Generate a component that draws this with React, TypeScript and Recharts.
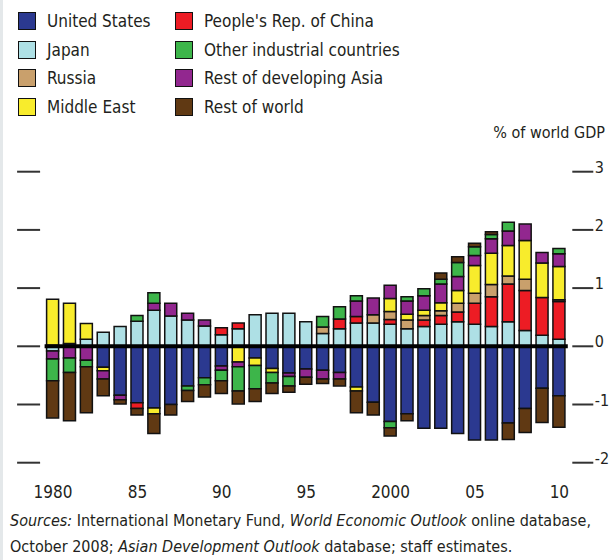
import { Bar, BarChart, ReferenceLine, XAxis, YAxis } from "recharts";

// Current account balances, % of world GDP, 1980-2010
const years = [
  1980, 1981, 1982, 1983, 1984, 1985, 1986, 1987, 1988, 1989, 1990, 1991, 1992, 1993, 1994, 1995,
  1996, 1997, 1998, 1999, 2000, 2001, 2002, 2003, 2004, 2005, 2006, 2007, 2008, 2009, 2010,
];

const unitedStates = [
  0.02, 0.05, 0, -0.36, -0.84, -0.97, -1.06, -1.0, -0.68, -0.54, -0.34, 0, -0.2, -0.38, -0.46, -0.39,
  -0.41, -0.45, -0.7, -0.96, -1.29, -1.16, -1.41, -1.41, -1.5, -1.61, -1.61, -1.32, -1.07, -0.72, -0.85,
];
const japan = [
  -0.08, 0, 0.12, 0.24, 0.34, 0.43, 0.62, 0.52, 0.45, 0.35, 0.2, 0.3, 0.54, 0.57, 0.57, 0.42,
  0.22, 0.3, 0.4, 0.4, 0.38, 0.3, 0.34, 0.38, 0.42, 0.38, 0.34, 0.42, 0.27, 0.19, 0.12,
];
const china = [
  0, 0, 0, 0, 0, -0.1, 0, 0, 0, 0, 0.12, 0.1, 0, 0, 0, 0,
  0, 0.17, 0.11, 0, 0.08, 0, 0.11, 0.15, 0.17, 0.36, 0.51, 0.65, 0.69, 0.65, 0.65,
];
const russia = [
  0, 0, 0, 0, 0, 0, 0, 0, 0, 0, 0, 0, 0, 0, 0, 0,
  0.11, 0, 0, 0.14, 0.14, 0.15, 0.08, 0.08, 0.15, 0.17, 0.21, 0.14, 0.19, 0, 0.03,
];
const middleEast = [
  0.79, 0.69, 0.27, -0.06, 0, 0, -0.1, 0, 0, 0, 0, -0.27, -0.13, -0.07, 0, 0,
  0, 0, -0.07, 0, 0.22, 0.1, 0.09, 0.14, 0.22, 0.48, 0.54, 0.52, 0.67, 0.59, 0.57,
];
const restDevAsia = [
  -0.14, -0.2, -0.24, -0.14, -0.08, 0, 0.12, 0.22, 0.12, 0.1, -0.07, -0.08, 0, 0, -0.06, -0.14,
  -0.15, -0.11, 0.27, 0.29, 0.23, 0.23, 0.25, 0.32, 0.24, 0.17, 0.25, 0.25, 0.28, 0.18, 0.22,
];
const otherIndustrial = [
  -0.37, -0.25, -0.11, 0, 0, 0.1, 0.18, 0, -0.08, -0.12, -0.18, -0.42, -0.4, -0.18, -0.16, 0,
  0.18, 0.21, 0.09, 0, -0.11, 0.07, 0.12, 0.08, 0.24, 0.15, 0.07, 0.15, 0, 0, 0.09,
];
const restOfWorld = [
  -0.64, -0.83, -0.79, -0.29, -0.07, -0.11, -0.34, -0.18, -0.19, -0.21, -0.22, -0.22, -0.22, -0.18, -0.11, -0.12,
  -0.08, -0.12, -0.37, -0.22, -0.14, -0.12, 0, 0.11, 0.1, 0.06, 0.05, -0.28, -0.41, -0.59, -0.54,
];

const yTicks = [-2, -1, 0, 1, 2, 3];

// stacking order (from zero outwards)
const SERIES = [
  { key: "us", name: "United States", color: "#2b3990", values: unitedStates },
  { key: "japan", name: "Japan", color: "#aee0e5", values: japan },
  { key: "china", name: "People's Rep. of China", color: "#ed1c24", values: china },
  { key: "russia", name: "Russia", color: "#c9a06c", values: russia },
  { key: "me", name: "Middle East", color: "#f8ec2c", values: middleEast },
  { key: "asia", name: "Rest of developing Asia", color: "#92278f", values: restDevAsia },
  { key: "oth", name: "Other industrial countries", color: "#3db54a", values: otherIndustrial },
  { key: "row", name: "Rest of world", color: "#603913", values: restOfWorld },
];

// legend is laid out in two columns, not in stack order
const LEGEND_COLS = [
  ["us", "japan", "russia", "me"],
  ["china", "oth", "asia", "row"],
];

const data = years.map((year, i) => {
  const row: Record<string, number> = { year };
  SERIES.forEach((s) => (row[s.key] = s.values[i]));
  return row;
});

const FONT = '"DejaVu Sans Condensed", "Liberation Sans", sans-serif';
const INK = "#231f20";

const W = 610;
const H = 560;
const LEFT_W = 44.6;
const RIGHT_W = 42.2;
const PLOT_W = W - LEFT_W - RIGHT_W;

const yearLabel = (y: number) => (y === 1980 || y === 2000 ? String(y) : String(y).slice(2));

// short dashes on both sides, value labels only on the right
function SideTicks({ x, y, payload }: any) {
  const r = x + PLOT_W;
  return (
    <g>
      <line x1={x - 27.5} x2={x - 4.5} y1={y} y2={y} stroke="#333" strokeWidth={2} />
      <line x1={r + 4.5} x2={r + 25.5} y1={y} y2={y} stroke="#333" strokeWidth={2} />
      <text x={r + 27} y={y + 1} fill={INK} fontSize={16} fontFamily={FONT}>
        {payload.value}
      </text>
    </g>
  );
}

function BottomTick({ x, y, payload }: any) {
  return (
    <text x={x} y={y + 35} textAnchor="middle" fill={INK} fontSize={17} fontFamily={FONT}>
      {yearLabel(payload.value)}
    </text>
  );
}

function Legend() {
  return (
    <div style={{ position: "absolute", left: 18, top: 7, display: "flex", fontFamily: FONT, fontSize: 17, color: INK }}>
      {LEGEND_COLS.map((col, ci) => (
        <div key={ci} style={{ width: ci === 0 ? 157 : 260 }}>
          {col.map((k) => {
            const s = SERIES.find((d) => d.key === k)!;
            return (
              <div key={k} style={{ display: "flex", alignItems: "center", height: 28.6 }}>
                <span
                  style={{
                    width: 16,
                    height: 16,
                    background: s.color,
                    border: "1.5px solid #111",
                    marginRight: 11,
                    flexShrink: 0,
                  }}
                />
                <span style={{ whiteSpace: "nowrap" }}>{s.name}</span>
              </div>
            );
          })}
        </div>
      ))}
    </div>
  );
}

export default function App() {
  return (
    <div style={{ position: "absolute", left: 0, top: 0, width: W, height: H, background: "#fff", overflow: "hidden" }}>
      <div style={{ position: "absolute", left: 0, top: 0, width: 3, height: H, background: "#e4e8ea" }} />
      <Legend />
      <div
        style={{
          position: "absolute",
          right: 5,
          top: 123,
          fontFamily: FONT,
          fontSize: 16,
          color: INK,
          whiteSpace: "nowrap",
        }}
      >
        % of world GDP
      </div>
      <BarChart
        width={W}
        height={H}
        data={data}
        stackOffset="sign"
        barSize={12}
        margin={{ top: 171.7, right: RIGHT_W, bottom: 0, left: 0 }}
      >
        <XAxis
          dataKey="year"
          height={97.3}
          interval={4}
          axisLine={false}
          tickLine={false}
          tickSize={0}
          tickMargin={0}
          tick={<BottomTick />}
        />
        <YAxis
          width={LEFT_W}
          domain={[-2, 3]}
          ticks={yTicks}
          axisLine={false}
          tickLine={false}
          tickSize={0}
          tickMargin={0}
          tick={<SideTicks />}
        />
        {SERIES.map((s) => (
          <Bar
            key={s.key}
            dataKey={s.key}
            stackId="a"
            fill={s.color}
            stroke="#111"
            strokeWidth={1.5}
            isAnimationActive={false}
          />
        ))}
        <ReferenceLine y={0} stroke="#000" strokeWidth={4} />
      </BarChart>
      <div
        style={{
          position: "absolute",
          left: 10,
          top: 508,
          fontFamily: FONT,
          fontSize: 16,
          lineHeight: "26px",
          color: INK,
          whiteSpace: "nowrap",
        }}
      >
        <div>
          <i>Sources:</i> International Monetary Fund, <i>World Economic Outlook</i> online database,
        </div>
        <div>
          October 2008; <i>Asian Development Outlook</i> database; staff estimates.
        </div>
      </div>
    </div>
  );
}
